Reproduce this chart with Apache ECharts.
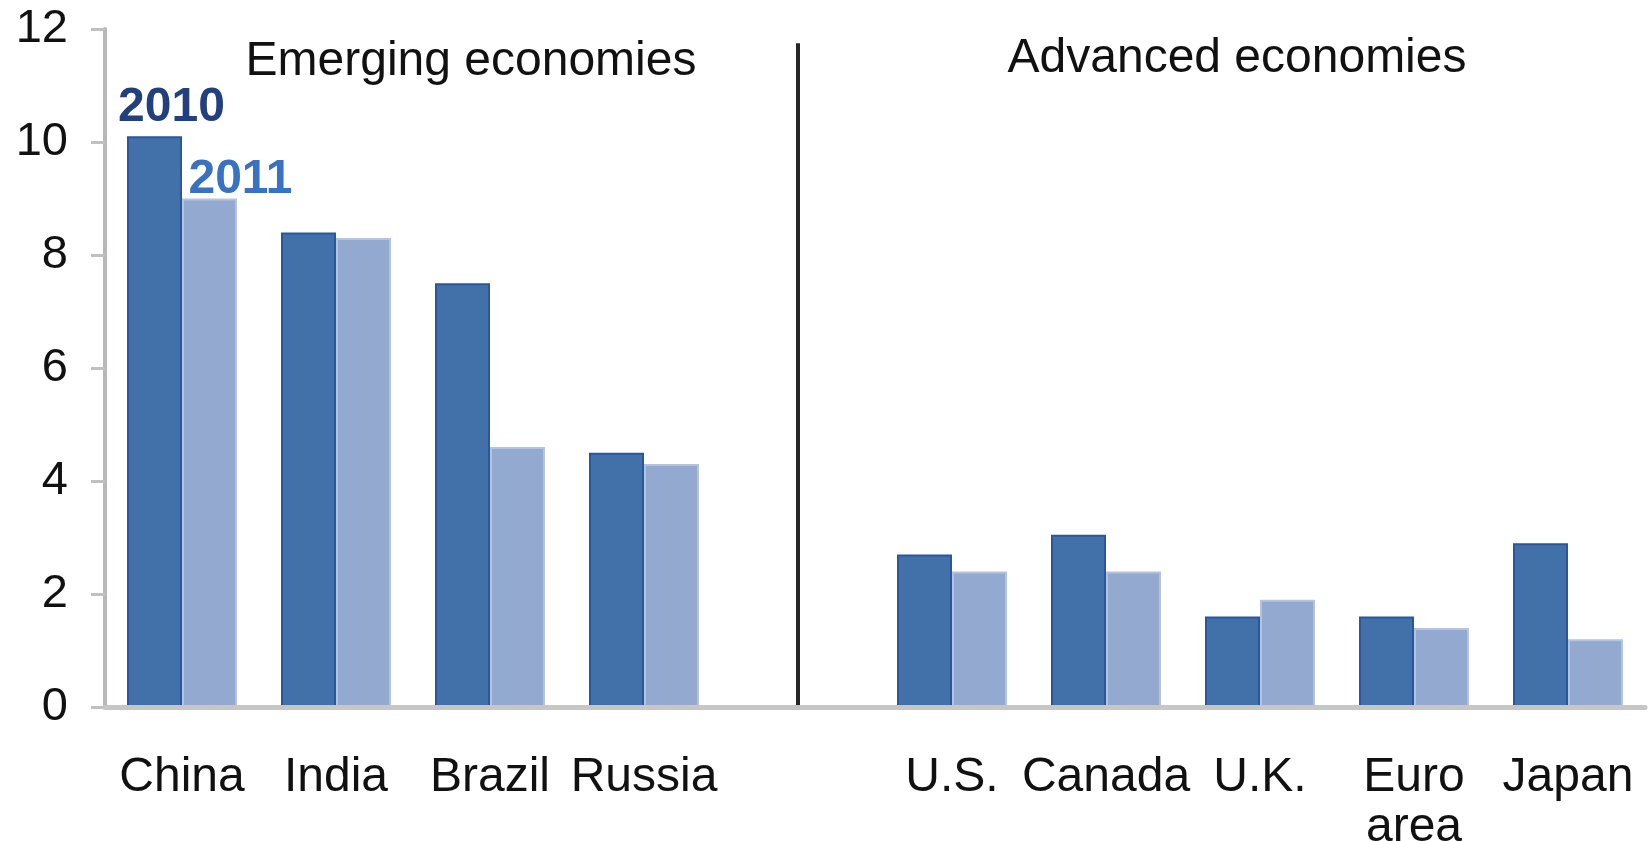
<!DOCTYPE html>
<html>
<head>
<meta charset="utf-8">
<script src="https://cdn.jsdelivr.net/npm/echarts@6/dist/echarts.min.js"></script>
<style>
html,body{margin:0;padding:0;background:#fff;}
#chart{width:1648px;height:841px;}
</style>
</head>
<body>
<div id="chart"></div>
<script>
// ---- data ----
const categories = ['China', 'India', 'Brazil', 'Russia', '', 'U.S.', 'Canada', 'U.K.', 'Euro\narea', 'Japan'];
const growth2010 = [10.1, 8.4, 7.5, 4.5, null, 2.7, 3.05, 1.6, 1.6, 2.9];
const growth2011 = [9.0, 8.3, 4.6, 4.3, null, 2.4, 2.4, 1.9, 1.4, 1.2];
const yTicks = [0, 2, 4, 6, 8, 10, 12];
const groupTitles = ['Emerging economies', 'Advanced economies'];
const seriesNames = ['2010', '2011'];
const dividerIndex = 4;
const dividerRange = [0, 11.75];

const FONT = '"Liberation Sans", Arial, sans-serif';
const chart = echarts.init(document.getElementById('chart'), null, {renderer: 'canvas'});

function withFirstLabel(arr) {
  return arr.map((v, i) => i === 0 ? {value: v, label: {show: true}} : v);
}

const option = {
  backgroundColor: '#ffffff',
  animation: false,
  grid: {left: 105, right: 3, top: 29, bottom: 134, containLabel: false, outerBoundsMode: 'none'},
  xAxis: {
    type: 'category',
    data: categories,
    axisTick: {show: false},
    axisLine: {show: true, lineStyle: {color: '#c6c6c6', width: 5}},
    axisLabel: {
      interval: 0,
      color: '#111111',
      fontFamily: FONT,
      fontSize: 48,
      lineHeight: 50,
      margin: 46
    },
    z: 5
  },
  yAxis: {
    type: 'value',
    min: yTicks[0],
    max: yTicks[yTicks.length - 1],
    interval: 2,
    splitLine: {show: false},
    axisLine: {show: true, lineStyle: {color: '#b8b8b8', width: 4}},
    axisTick: {show: true, inside: false, length: 14, lineStyle: {color: '#c0c0c0', width: 3}},
    axisLabel: {
      color: '#111111',
      fontFamily: FONT,
      fontSize: 47,
      margin: 37
    }
  },
  series: [
    {
      name: seriesNames[0],
      type: 'bar',
      data: withFirstLabel(growth2010),
      barWidth: 55,
      barGap: '0%',
      itemStyle: {color: '#4270a8', borderColor: '#2a579c', borderWidth: 2},
      label: {
        show: false,
        position: 'top',
        formatter: seriesNames[0],
        fontFamily: FONT,
        fontSize: 48,
        fontWeight: 'bold',
        color: '#22407e',
        offset: [17, 0]
      }
    },
    {
      name: seriesNames[1],
      type: 'bar',
      data: withFirstLabel(growth2011),
      barWidth: 55,
      barGap: '0%',
      itemStyle: {color: '#93a9d0', borderColor: '#b3c4e0', borderWidth: 2},
      label: {
        show: false,
        position: 'top',
        formatter: seriesNames[1],
        fontFamily: FONT,
        fontSize: 48,
        fontWeight: 'bold',
        color: '#3a72c2',
        offset: [31, 10]
      }
    },
    {
      name: 'divider',
      type: 'line',
      data: categories.map(() => null),
      silent: true,
      showSymbol: false,
      markLine: {
        silent: true,
        symbol: ['none', 'none'],
        label: {show: false},
        lineStyle: {color: '#262626', width: 4, type: 'solid'},
        data: [[{coord: [dividerIndex, dividerRange[0]]}, {coord: [dividerIndex, dividerRange[1]]}]]
      }
    }
  ],
  graphic: [
    {
      type: 'text', x: 471, y: 38, silent: true,
      style: {text: groupTitles[0], font: '48px ' + FONT, fill: '#111111', align: 'center', verticalAlign: 'top'}
    },
    {
      type: 'text', x: 1237, y: 35, silent: true,
      style: {text: groupTitles[1], font: '48px ' + FONT, fill: '#111111', align: 'center', verticalAlign: 'top'}
    }
  ]
};
chart.setOption(option);
</script>
</body>
</html>
